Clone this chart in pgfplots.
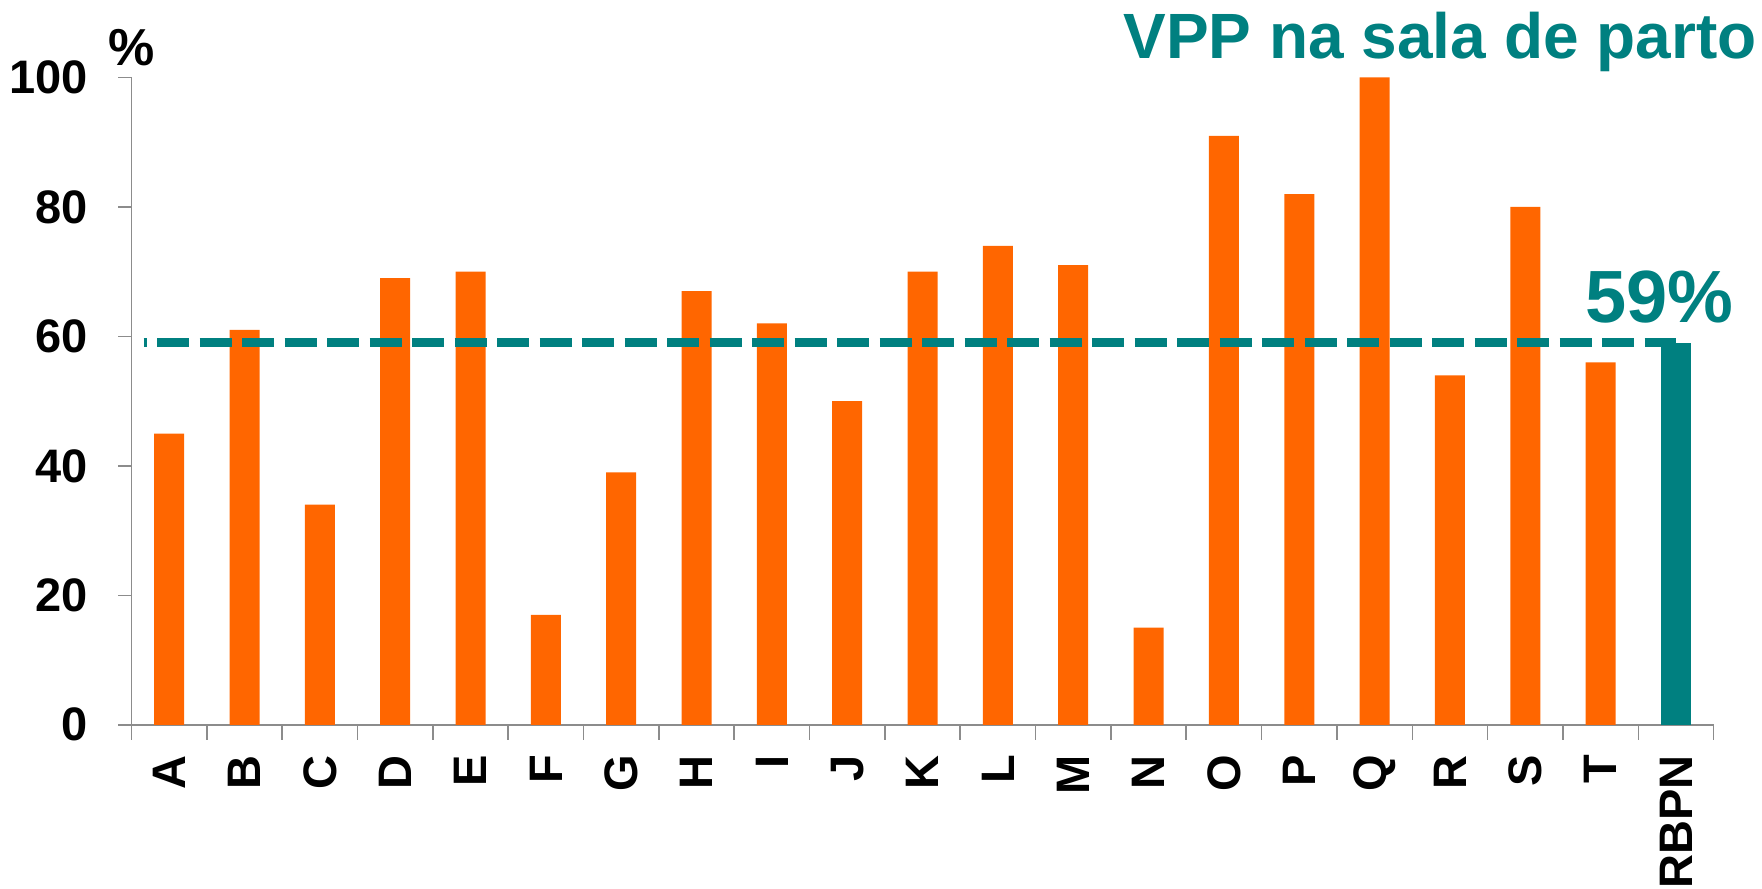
\documentclass[border=0pt]{standalone}
\usepackage{pgfplots}
\pgfplotsset{compat=1.18}
\usepackage{fontspec}
\setmainfont{Liberation Sans}
\definecolor{vorange}{RGB}{255,102,0}
\definecolor{vteal}{RGB}{0,128,128}
\definecolor{axgray}{RGB}{140,140,140}
\begin{document}
\begin{tikzpicture}
\begin{axis}[
  scale only axis, width=791.05bp, height=323.65bp,
  xmin=-0.5, xmax=20.5, ymin=0, ymax=100,
  clip=false,
  axis x line*=bottom, axis y line*=left,
  axis line style={axgray, line width=0.75bp},
  xtick={0,...,20},
  xticklabels={A,B,C,D,E,F,G,H,I,J,K,L,M,N,O,P,Q,R,S,T,RBPN},
  minor xtick={-0.5,0.5,1.5,2.5,3.5,4.5,5.5,6.5,7.5,8.5,9.5,10.5,11.5,12.5,13.5,14.5,15.5,16.5,17.5,18.5,19.5,20.5},
  major x tick style={draw=none},
  minor x tick style={axgray, line width=0.75bp},
  minor tick length=7.5bp,
  ytick={0,20,40,60,80,100},
  y tick style={axgray, line width=0.75bp},
  major tick length=6.5bp,
  tick align=outside,
  /pgf/number format/assume math mode=true,
  tick label style={font=\bfseries\fontsize{23.5bp}{27bp}\selectfont, inner sep=0pt},
  yticklabel shift=15bp,
  xticklabel style={rotate=90, anchor=east},
  xticklabel shift=8.5bp,
]
\addplot[ybar, bar width=15bp, bar shift=0pt, fill=vorange, draw=none] coordinates {
(0,45) (1,61) (2,34) (3,69) (4,70) (5,17) (6,39) (7,67) (8,62) (9,50)
(10,70) (11,74) (12,71) (13,15) (14,91) (15,82) (16,100) (17,54) (18,80) (19,56)};
\addplot[ybar, bar width=15bp, bar shift=0pt, fill=vteal, draw=none] coordinates {(20,59)};
\addplot[vteal, line width=4.5bp, dash pattern=on 16bp off 5.25bp, dash phase=14.5bp] coordinates {(-0.34,59) (20,59)};
\node[anchor=base, font=\bfseries\fontsize{26bp}{30bp}\selectfont, yshift=6bp] at (rel axis cs:0,1) {\%};
\node[anchor=base east, text=vteal, font=\bfseries\fontsize{32bp}{36bp}\selectfont, xshift=25bp, yshift=9.5bp] at (rel axis cs:1,1) {VPP na sala de parto};
\node[anchor=base east, text=vteal, font=\bfseries\fontsize{37bp}{42bp}\selectfont, xshift=13.5bp] at (axis cs:20.5,62.15) {59\%};
\coordinate (O) at (rel axis cs:0,0);
\coordinate (T) at (rel axis cs:1,1);
\end{axis}
\pgfresetboundingbox
\path[use as bounding box] ([xshift=-65.75bp,yshift=-82.1bp]O) rectangle ([xshift=24.2bp,yshift=38.75bp]T);
\end{tikzpicture}
\end{document}
